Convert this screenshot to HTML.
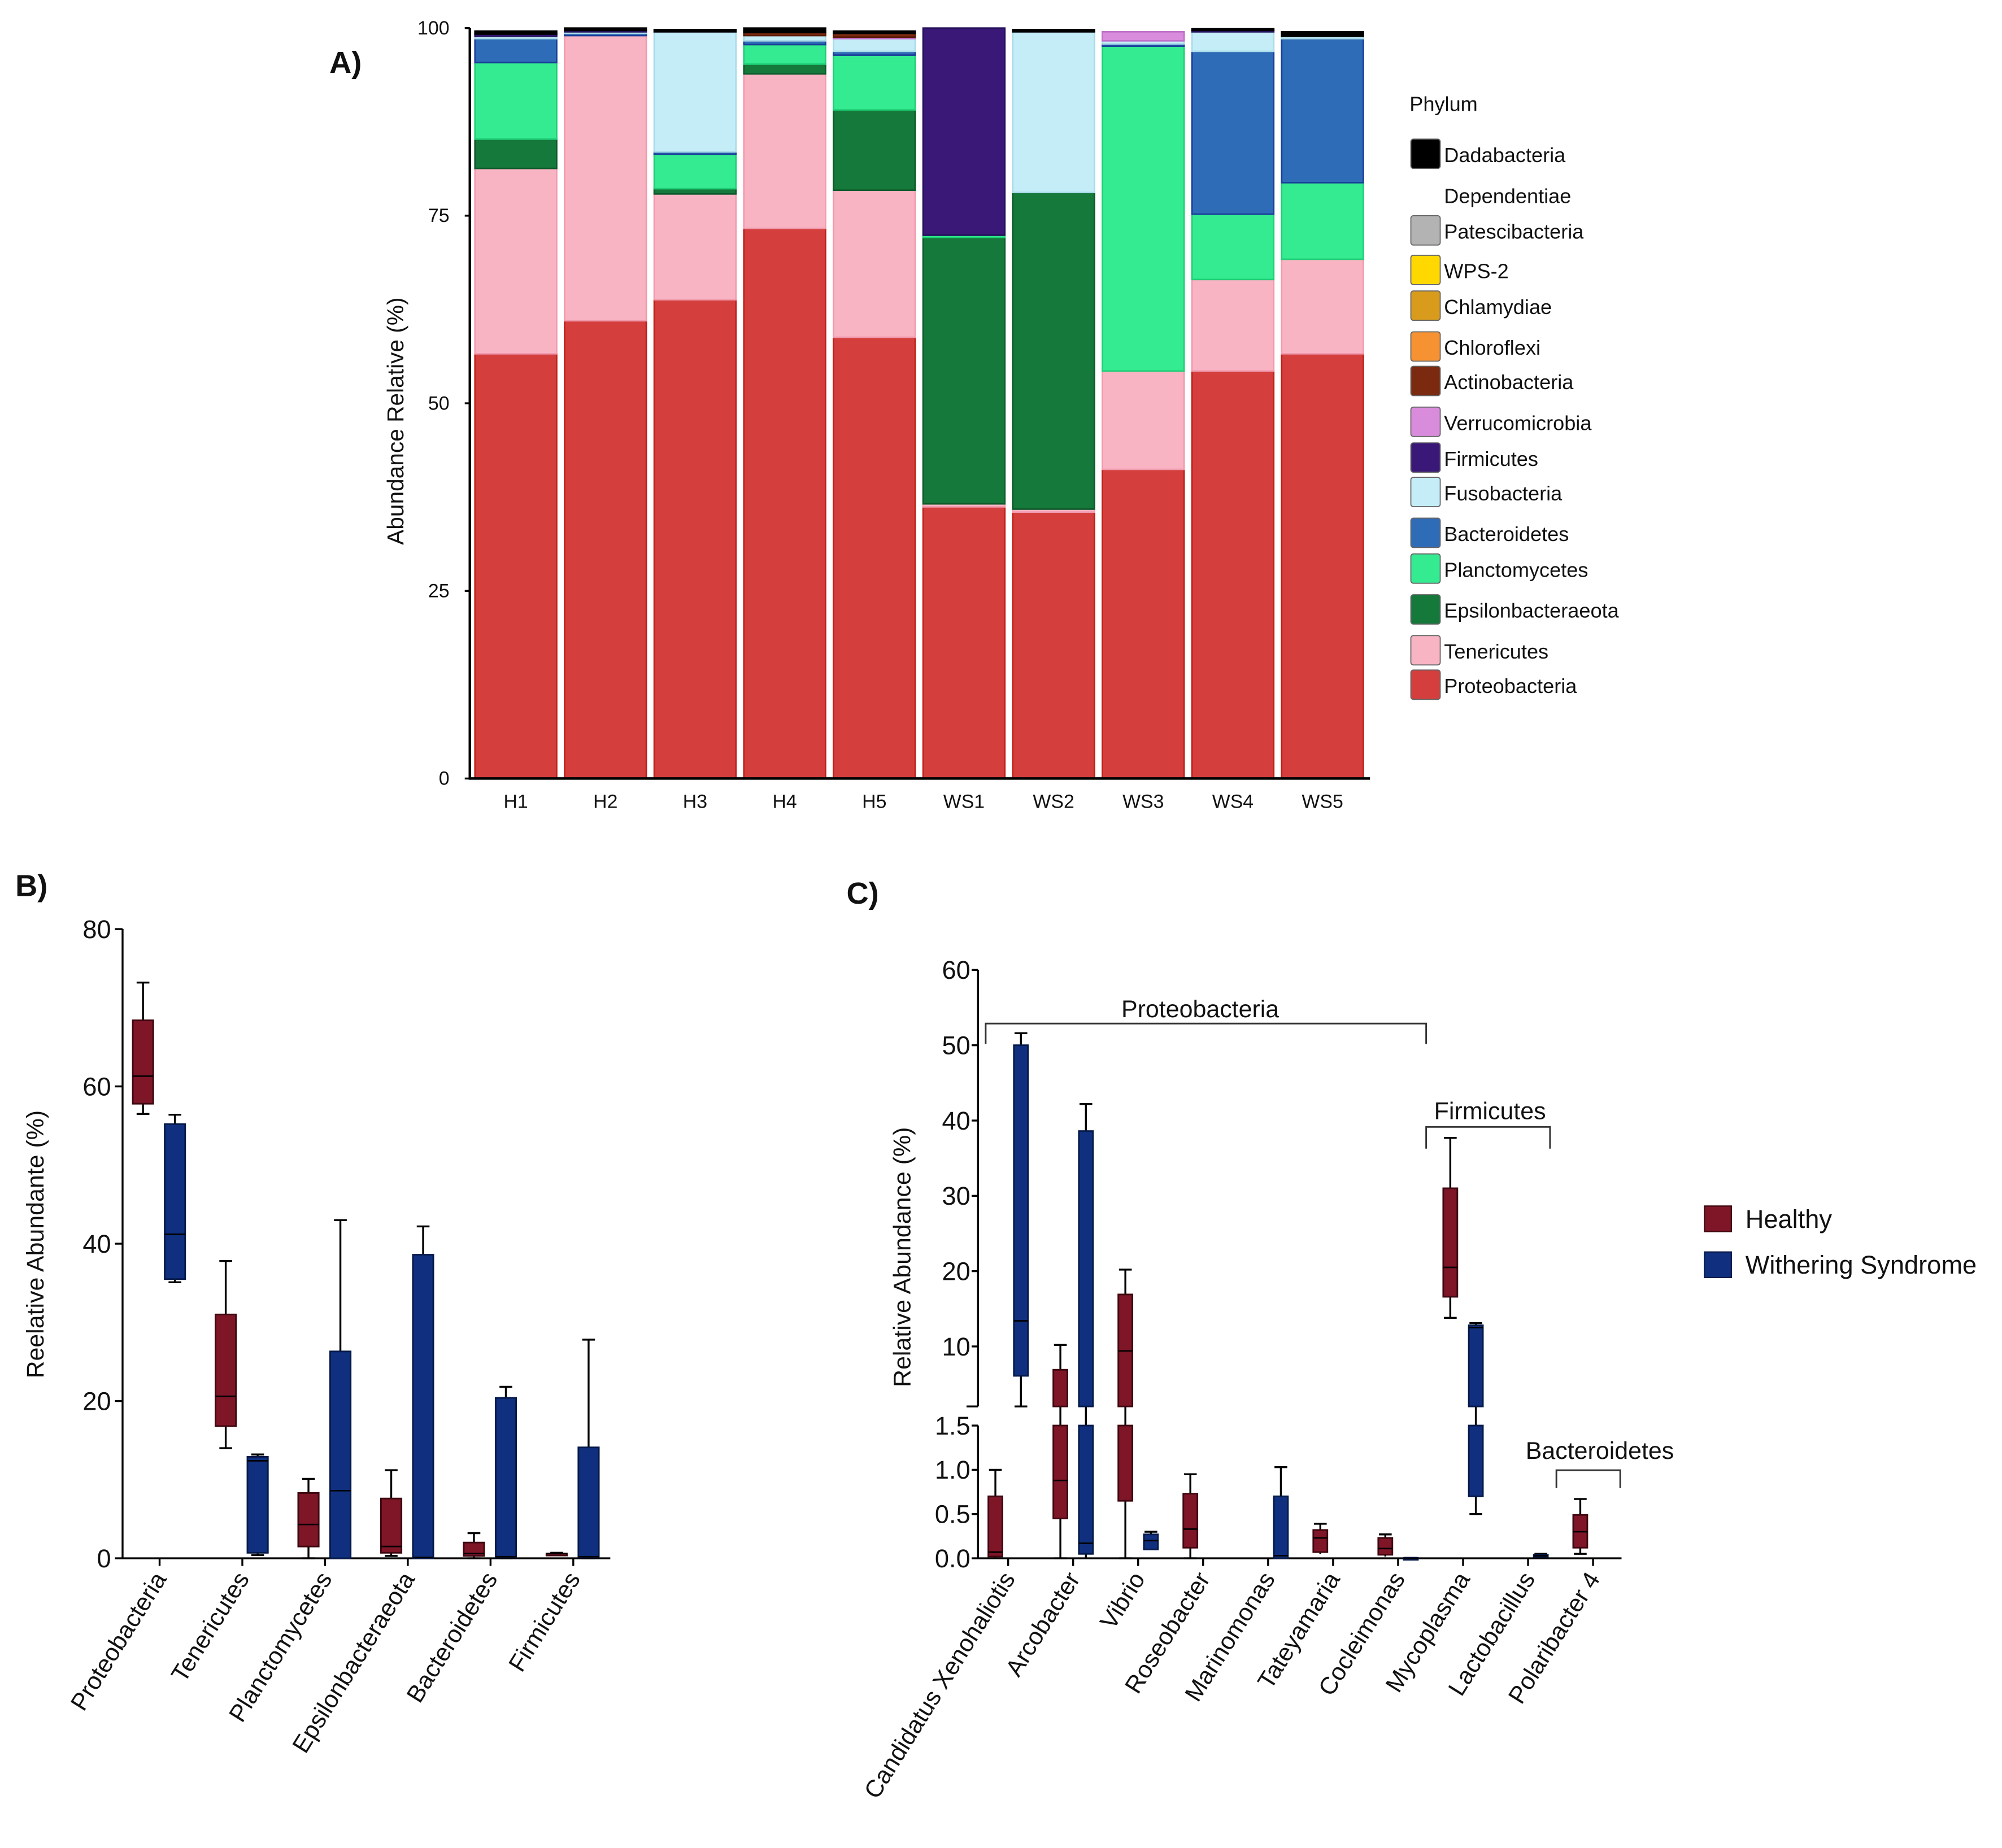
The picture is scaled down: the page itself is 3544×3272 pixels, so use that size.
<!DOCTYPE html>
<html><head><meta charset="utf-8"><style>
html,body{margin:0;padding:0;background:#fff;}
svg{display:block;font-family:"Liberation Sans",Arial,sans-serif;}
</style></head><body>
<svg id="fig" width="3544" height="3272" viewBox="0 0 1568 1448" preserveAspectRatio="none" xmlns="http://www.w3.org/2000/svg">
<rect width="1568" height="1448" fill="#fff"/>
<g id="pa"></g>
<g id="pb"></g>
<g id="pc"></g>
</svg>
<script>
// ---------- Panel A data ----------
const samples = ["H1","H2","H3","H4","H5","WS1","WS2","WS3","WS4","WS5"];
const phylaStack = ["Proteobacteria","Tenericutes","Epsilonbacteraeota","Planctomycetes","Bacteroidetes","Fusobacteria","Firmicutes","Verrucomicrobia","Actinobacteria","Dadabacteria"];
const proteo   = [56.6,61,63.8,73.3,58.8,36.2,35.5,41.2,54.3,56.6];
const teneric  = [24.7,38,14.1,20.6,19.6,0.4,0.4,13.1,12.2,12.6];
const epsilon  = [3.9,0,0.7,1.3,10.7,35.5,42.2,0,0,0];
const plancto  = [10.2,0,4.6,2.6,7.3,0.3,0,43.3,8.7,10.2];
const bactero  = [3.2,0.3,0.3,0.5,0.5,0,0,0.3,21.7,19.2];
const fuso     = [0.3,0.2,16,0.7,1.7,0,21.4,0.4,2.6,0.3];
const firmic   = [0.3,0.2,0,0,0,27.6,0,0,0.2,0];
const verruc   = [0,0,0,0,0.2,0,0,1.2,0,0];
const actino   = [0,0,0,0.4,0.5,0,0,0,0,0];
const dada     = [0.4,0.3,0.3,0.6,0.3,0,0.3,0,0.2,0.6];
const yTicksA  = [0,25,50,75,100];
const legendNames = ["Dadabacteria","Dependentiae","Patescibacteria","WPS-2","Chlamydiae","Chloroflexi","Actinobacteria","Verrucomicrobia","Firmicutes","Fusobacteria","Bacteroidetes","Planctomycetes","Epsilonbacteraeota","Tenericutes","Proteobacteria"];

// ---------- Panel B data ----------
const catsB = ["Proteobacteria","Tenericutes","Planctomycetes","Epsilonbacteraeota","Bacteroidetes","Firmicutes"];
// [min,q1,median,q3,max]
const healthyB = [[56.5,57.8,61.3,68.4,73.2],[14,16.8,20.6,31,37.8],[0,1.5,4.3,8.3,10.1],[0.3,0.7,1.5,7.6,11.2],[0,0.3,0.6,2,3.2],[0.4,0.5,0.6,0.6,0.7]];
const wsB      = [[35.1,35.5,41.2,55.2,56.4],[0.4,0.7,12.4,12.9,13.2],[0,0,8.6,26.3,43],[0,0,0.1,38.6,42.2],[0,0.1,0.2,20.4,21.8],[0,0.1,0.2,14.1,27.8]];
const yTicksB = [0,20,40,60,80];

// ---------- Panel C data ----------
const catsC = ["Candidatus Xenohaliotis","Arcobacter","Vibrio","Roseobacter","Marinomonas","Tateyamaria","Cocleimonas","Mycoplasma","Lactobacillus","Polaribacter 4"];
const healthyC = [[0,0.02,0.07,0.7,1.0],[0,0.45,0.88,6.9,10.2],[0,0.65,9.4,16.9,20.2],[0,0.12,0.33,0.73,0.95],null,[0.05,0.07,0.23,0.32,0.39],[0.02,0.04,0.11,0.23,0.27],[13.8,16.6,20.5,31,37.7],null,[0.05,0.12,0.3,0.49,0.67]];
const wsC      = [[2,6.1,13.4,50,51.6],[0,0.05,0.17,38.6,42.2],[0.1,0.1,0.2,0.27,0.3],null,[0,0,0.03,0.7,1.03],null,[0,0,0,0.005,0.005],[0.5,0.7,12.5,12.8,13.1],[0.02,0.03,0.03,0.04,0.05],null];
const yTicksCTop = [10,20,30,40,50,60];
const yTicksCBot = [0,0.5,1.0,1.5];
const yTickLabCBot = ["0.0","0.5","1.0","1.5"];

const NS="http://www.w3.org/2000/svg";
function mk(parent,tag,attrs,text){const e=document.createElementNS(NS,tag);for(const k in attrs)e.setAttribute(k,attrs[k]);if(text!==undefined)e.textContent=text;parent.appendChild(e);return e;}

// ===== Panel A =====
(function(){
  const g=document.getElementById('pa');
  const y0=610,y1=22,xL=368,xR=1073;
  const ya=v=>y0-(v/100)*(y0-y1);
  const xa=i=>404+i*70.2;
  const bw=64;
  const series=[proteo,teneric,epsilon,plancto,bactero,fuso,firmic,verruc,actino,dada];
  const fills={"Proteobacteria":"#d43f3e","Tenericutes":"#f9b4c4","Epsilonbacteraeota":"#15793b","Planctomycetes":"#35eb91","Bacteroidetes":"#2f6cb7","Fusobacteria":"#c4edf8","Firmicutes":"#3a1878","Verrucomicrobia":"#da8cdc","Actinobacteria":"#7b2a10","Chloroflexi":"#f79233","Chlamydiae":"#d99b1c","WPS-2":"#ffd800","Patescibacteria":"#b3b3b3","Dependentiae":"#ffffff","Dadabacteria":"#000000"};
  const strokes={"Proteobacteria":"#c0201a","Tenericutes":"#f19aae","Epsilonbacteraeota":"#0d5a2a","Planctomycetes":"#1fcf76","Bacteroidetes":"#1a3f9a","Fusobacteria":"#a8dbe9","Firmicutes":"#24105a","Verrucomicrobia":"#c070c8","Actinobacteria":"#5a1a08","Dadabacteria":"#000"};
  samples.forEach((s,i)=>{
    let acc=0;
    series.forEach((arr,k)=>{
      const v=arr[i]; if(v<=0) return;
      const r=mk(g,'rect',{x:xa(i)-bw/2,y:ya(acc+v),width:bw,height:ya(acc)-ya(acc+v),fill:fills[phylaStack[k]],stroke:strokes[phylaStack[k]],'stroke-width':1.2});
      
      
      acc+=v;
    });
    const t=mk(g,'text',{x:xa(i),y:633,'font-size':15,'text-anchor':'middle',fill:'#111'},s);
    
    
  });
  mk(g,'line',{x1:xL,y1:y1,x2:xL,y2:y0+1,stroke:'#000','stroke-width':2});
  mk(g,'line',{x1:xL,y1:y0,x2:xR,y2:y0,stroke:'#000','stroke-width':2});
  yTicksA.forEach(v=>{
    mk(g,'line',{x1:xL-4,y1:ya(v),x2:xL,y2:ya(v),stroke:'#000','stroke-width':1.5});
    const t=mk(g,'text',{x:352,y:ya(v)+5,'font-size':15,'text-anchor':'end',fill:'#111'},String(v));
    
    
  });
  const yt=mk(g,'text',{x:0,y:0,'font-size':18,'text-anchor':'middle',fill:'#111',transform:'translate(316,330) rotate(-90)'},'Abundance Relative (%)');
  
  
  const pl=mk(g,'text',{x:258,y:57,'font-size':24,'font-weight':'bold',fill:'#111'},'A)');
  
  
  const lt=mk(g,'text',{x:1104,y:87,'font-size':16,fill:'#111'},'Phylum');
  
  
  const ly=[121,153,181,212,240,272,299,331,359,386,418,446,478,510,537];
  legendNames.forEach((n,i)=>{
    const sw=mk(g,'rect',{x:1105,y:ly[i]-12,width:23,height:23,rx:2,fill:fills[n],stroke:n==="Dependentiae"?'none':'#666','stroke-width':0.8});
    
    
    const t=mk(g,'text',{x:1131,y:ly[i]+6,'font-size':16,fill:'#111'},n);
    
    
  });
})();

const HF="#7f1628",HS="#3f0810",WF="#10307f",WS="#061a4a";
function drawBox(g,cx,w,st,yf,fill,stroke,name,clipBreak){
  const wl=mk(g,'line',{x1:cx,y1:yf(st[4]),x2:cx,y2:yf(st[0]),stroke:'#000','stroke-width':1.5});
  
  
  const cap=mk(g,'line',{x1:cx-5,y1:yf(st[4]),x2:cx+5,y2:yf(st[4]),stroke:'#000','stroke-width':1.5});
  
  
  if(st[0]>0.1 || st[0]<st[1]-0.05){const c2=mk(g,'line',{x1:cx-5,y1:yf(st[0]),x2:cx+5,y2:yf(st[0]),stroke:'#000','stroke-width':1.5});
    
    }
  const top=yf(st[3]),bot=yf(st[1]);
  const segs = clipBreak?clipBreak(top,bot):[[top,bot]];
  segs.forEach(([a,b])=>{
    if(b-a<=0) return;
    const r=mk(g,'rect',{x:cx-w/2,y:a,width:w,height:Math.max(b-a,1.5),fill:fill,stroke:stroke,'stroke-width':1.3});
    
    
  });
  const m=mk(g,'line',{x1:cx-w/2,y1:yf(st[2]),x2:cx+w/2,y2:yf(st[2]),stroke:'#000','stroke-width':1.2});
  
  
}

// ===== Panel B =====
(function(){
  const g=document.getElementById('pb');
  const y0=1221,yTop=728,xL=96,xR=478;
  const yb=v=>y0-(v/80)*(y0-yTop);
  const xb=i=>125+i*64.8;
  mk(g,'line',{x1:xL,y1:yTop,x2:xL,y2:y0,stroke:'#000','stroke-width':1.5});
  mk(g,'line',{x1:xL,y1:y0,x2:xR,y2:y0,stroke:'#000','stroke-width':1.5});
  yTicksB.forEach(v=>{
    mk(g,'line',{x1:xL-6,y1:yb(v),x2:xL,y2:yb(v),stroke:'#000','stroke-width':1.5});
    const t=mk(g,'text',{x:87,y:yb(v)+7,'font-size':20,'text-anchor':'end',fill:'#111'},String(v));
    
    
  });
  catsB.forEach((c,i)=>{
    mk(g,'line',{x1:xb(i),y1:y0,x2:xb(i),y2:y0+6,stroke:'#000','stroke-width':1.5});
    drawBox(g,xb(i)-13,16,healthyB[i],yb,HF,HS,'box-healthy-'+c.toLowerCase());
    drawBox(g,xb(i)+12,16,wsB[i],yb,WF,WS,'box-ws-'+c.toLowerCase());
    const t=mk(g,'text',{x:0,y:0,'font-size':19,'text-anchor':'end',fill:'#111',transform:`translate(${xb(i)+6},${y0+16}) rotate(-58)`},c);
    
    
  });
  const yt=mk(g,'text',{x:0,y:0,'font-size':19,'text-anchor':'middle',fill:'#111',transform:'translate(34,975) rotate(-90)'},'Reelative Abundante (%)');
  
  
  const pl=mk(g,'text',{x:12,y:702,'font-size':24,'font-weight':'bold',fill:'#111'},'B)');
  
  
})();

// ===== Panel C =====
(function(){
  const g=document.getElementById('pc');
  const xL=766,xR=1270;
  const topY60=760,per10=59,breakTopY=1102,breakBotY=1117,zeroY=1221;
  const botMax=1.5;
  const yc=v=>{
    if(v<=botMax) return zeroY-(v/botMax)*(zeroY-breakBotY);
    const yt=topY60+(60-v)*per10/10;
    return yt>breakTopY?breakTopY:yt;
  };
  const clip=(a,b)=>{
    if(a<breakTopY && b>breakBotY) return [[a,breakTopY],[breakBotY,b]];
    return [[a,b]];
  };
  const xc=i=>789.6+i*50.9;
  mk(g,'line',{x1:xL,y1:topY60,x2:xL,y2:breakTopY,stroke:'#000','stroke-width':1.5});
  mk(g,'line',{x1:xL-9,y1:breakTopY,x2:xL,y2:breakTopY,stroke:'#000','stroke-width':1.5});
  mk(g,'line',{x1:xL,y1:breakBotY,x2:xL,y2:zeroY,stroke:'#000','stroke-width':1.5});
  mk(g,'line',{x1:xL,y1:zeroY,x2:xR,y2:zeroY,stroke:'#000','stroke-width':1.5});
  yTicksCTop.forEach(v=>{
    mk(g,'line',{x1:xL-5,y1:yc(v),x2:xL,y2:yc(v),stroke:'#000','stroke-width':1.5});
    const t=mk(g,'text',{x:760,y:yc(v)+7,'font-size':20,'text-anchor':'end',fill:'#111'},String(v));
    
    
  });
  yTicksCBot.forEach((v,k)=>{
    mk(g,'line',{x1:xL-5,y1:yc(v),x2:xL,y2:yc(v),stroke:'#000','stroke-width':1.5});
    const t=mk(g,'text',{x:760,y:yc(v)+7,'font-size':20,'text-anchor':'end',fill:'#111'},yTickLabCBot[k]);
    
    
  });
  catsC.forEach((c,i)=>{
    mk(g,'line',{x1:xc(i),y1:zeroY,x2:xc(i),y2:zeroY+6,stroke:'#000','stroke-width':1.5});
    if(healthyC[i]) drawBox(g,xc(i)-10,11,healthyC[i],yc,HF,HS,'box-healthy-'+c.toLowerCase().replace(/ /g,'-'),clip);
    if(wsC[i]) drawBox(g,xc(i)+10,11,wsC[i],yc,WF,WS,'box-ws-'+c.toLowerCase().replace(/ /g,'-'),clip);
    const t=mk(g,'text',{x:0,y:0,'font-size':19,'text-anchor':'end',fill:'#111',transform:`translate(${xc(i)+6},${zeroY+16}) rotate(-58)`},c);
    
    
  });
  const br=[["Proteobacteria",772,1117,802,818,940,797],["Firmicutes",1117,1214,883,900,1167,877],["Bacteroidetes",1219,1269,1152,1166,1253,1143]];
  br.forEach(b=>{
    const p=mk(g,'path',{d:`M${b[1]},${b[4]} V${b[3]} H${b[2]} V${b[4]}`,fill:'none',stroke:'#333','stroke-width':1.3});
    
    
    const t=mk(g,'text',{x:b[5],y:b[6],'font-size':19,'text-anchor':'middle',fill:'#111'},b[0]);
    
    
  });
  const yt=mk(g,'text',{x:0,y:0,'font-size':19,'text-anchor':'middle',fill:'#111',transform:'translate(713,985) rotate(-90)'},'Relative Abundance (%)');
  
  
  const pl=mk(g,'text',{x:663,y:708,'font-size':24,'font-weight':'bold',fill:'#111'},'C)');
  
  
  const s1=mk(g,'rect',{x:1335,y:945,width:21,height:20,fill:HF,stroke:HS,'stroke-width':1});
  
  
  const t1=mk(g,'text',{x:1367,y:962,'font-size':20,fill:'#111'},'Healthy');
  
  
  const s2=mk(g,'rect',{x:1335,y:981,width:21,height:20,fill:WF,stroke:WS,'stroke-width':1});
  
  
  const t2=mk(g,'text',{x:1367,y:998,'font-size':20,fill:'#111'},'Withering Syndrome');
  
  
})();
</script>
</body></html>
